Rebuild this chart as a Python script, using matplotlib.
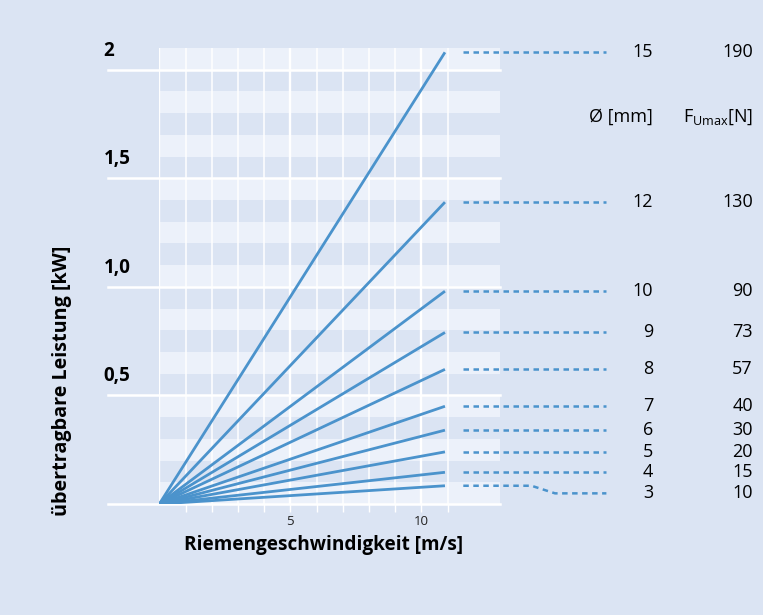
import matplotlib.pyplot as plt
import numpy as np

plt.rcParams['font.family'] = ['Open Sans', 'DejaVu Sans']

# Riemen: Durchmesser, max. Umfangskraft, Leistung am Ende der Linie (kW)
diameters = [15, 12, 10, 9, 8, 7, 6, 5, 4, 3]
forces = [190, 130, 90, 73, 57, 40, 30, 20, 15, 10]
power_end = [2.08, 1.39, 0.98, 0.79, 0.62, 0.45, 0.34, 0.24, 0.146, 0.084]
v_end = 10.9

y_major = [0.5, 1.0, 1.5, 2.0]
y_labels = ['0,5', '1,0', '1,5', '2']
x_labels = {5: '5', 10: '10'}

bg = '#dbe4f3'
light = '#ecf1fa'
blue = '#4b93cc'

fig = plt.figure(figsize=(7.63, 6.15), dpi=100, facecolor=bg)
ax = fig.add_axes([0.2088, 0.1805, 0.4465, 0.7415])
ax.set_facecolor(bg)
ax.set_xlim(0, 13)
ax.set_ylim(0, 2.1)
for s in ax.spines.values():
    s.set_visible(False)

# stripes
for k in range(0, 21, 2):
    ax.axhspan(k * 0.1, (k + 1) * 0.1, color=light, lw=0, zorder=0)

# vertical grid
for v in range(0, 12):
    lw = 1.7 if v in (0, 5, 10) else 1.1
    ax.axvline(v, color='white', lw=lw, zorder=1)

# horizontal major lines, extended to the left
for y in [0] + y_major:
    ax.axhline(y, xmin=-0.15, xmax=1, color='white', lw=1.8, clip_on=False, zorder=2)

for y, lab in zip(y_major, y_labels):
    ax.text(-2.12, y + 0.088, lab, ha='left', va='center', fontsize=13.5,
            fontweight='bold', clip_on=False)

ax.set_yticks([])
ax.set_xticks(range(1, 12))
ax.set_xticklabels([x_labels.get(v, '') for v in range(1, 12)], fontsize=9.5)
ax.tick_params(axis='x', colors='white', length=6, width=1, pad=2, labelcolor='#222222')

# lines
for p in power_end:
    ax.plot([0, v_end], [0, p], color=blue, lw=2, solid_capstyle='butt', zorder=3)

# leader lines and labels
for d, f, p in zip(diameters, forces, power_end):
    if d == 3:
        ly = 0.049
        xs = [11.6, 14.2, 15.1, 17.06]
        ys = [p, p, ly, ly]
    else:
        ly = p
        xs = [11.6, 17.06]
        ys = [p, p]
    ax.plot(xs, ys, color=blue, lw=1.8, ls=(0, (2.2, 1.8)), clip_on=False, zorder=3)
    ax.text(18.85, ly, str(d), ha='right', va='center', fontsize=13, clip_on=False)
    ax.text(22.65, ly, str(f), ha='right', va='center', fontsize=13, clip_on=False)

ax.text(18.85, 1.783, 'Ø [mm]', ha='right', va='center', fontsize=13, clip_on=False)
ax.text(22.65, 1.783, r'F$_{\mathregular{Umax}}$[N]', ha='right', va='center',
        fontsize=13, clip_on=False)

fig.text(324 / 763, 1 - 545 / 615, 'Riemengeschwindigkeit [m/s]', ha='center',
         va='center', fontsize=13.7, fontweight='bold')
fig.text(62 / 763, 1 - 381 / 615, 'übertragbare Leistung [kW]', ha='center',
         va='center', rotation=90, fontsize=14.2, fontweight='bold')

fig.savefig('out.png', dpi=100, facecolor=bg)
